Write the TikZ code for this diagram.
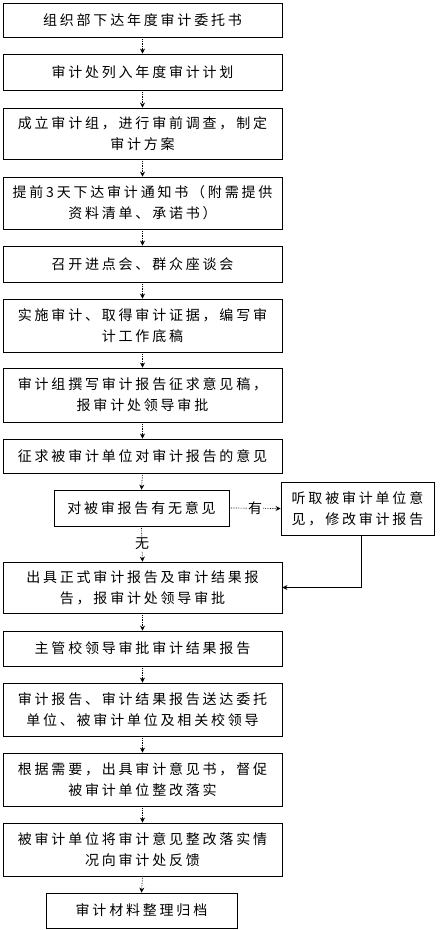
\documentclass[tikz,border=0pt]{standalone}
\usepackage{fontspec}
\newfontfamily\cjk[LetterSpace=20]{Noto Sans CJK SC}
\usetikzlibrary{arrows.meta}
\begin{document}
\begin{tikzpicture}[x=1pt,y=-1pt,
  box/.style={draw,line width=0.8pt,inner sep=0pt,align=center,
    font=\cjk\fontsize{14}{21}\selectfont,minimum width=279pt},
  flow/.style={densely dotted,line width=0.7pt,-{Stealth[length=5pt,width=5pt]}},
  solidflow/.style={line width=0.8pt,-{Stealth[length=5pt,width=5pt]}},
  lbl/.style={fill=white,inner sep=1pt,font=\cjk\fontsize{14}{16}\selectfont}]
\useasboundingbox (0,0) rectangle (442,930);
\node[box,minimum height=34pt] (b1) at (142.5,20) {组织部下达年度审计委托书};
\node[box,minimum height=36pt] (b2) at (142.5,72) {审计处列入年度审计计划};
\node[box,minimum height=51pt] (b3) at (142.5,133.5) {成立审计组，进行审前调查，制定\\审计方案};
\node[box,minimum height=52pt] (b4) at (142.5,203) {提前3天下达审计通知书（附需提供\\资料清单、承诺书）};
\node[box,minimum height=36pt] (b5) at (142.5,264) {召开进点会、群众座谈会};
\node[box,minimum height=53pt] (b6) at (142.5,325.5) {实施审计、取得审计证据，编写审\\计工作底稿};
\node[box,minimum height=54pt] (b7) at (142.5,395) {审计组撰写审计报告征求意见稿，\\报审计处领导审批};
\node[box,minimum height=34pt] (b8) at (142.5,456) {征求被审计单位对审计报告的意见};
\node[box,minimum height=36pt,minimum width=175pt] (b9) at (141.5,508) {对被审报告有无意见};
\node[box,minimum height=53pt,minimum width=153pt] (r) at (357.5,508.5) {听取被审计单位意\\见，修改审计报告};
\node[box,minimum height=51pt] (b10) at (142.5,587.5) {出具正式审计报告及审计结果报\\告，报审计处领导审批};
\node[box,minimum height=35pt] (b11) at (142.5,648.5) {主管校领导审批审计结果报告};
\node[box,minimum height=53pt] (b12) at (142.5,709.5) {审计报告、审计结果报告送达委托\\单位、被审计单位及相关校领导};
\node[box,minimum height=53pt] (b13) at (142.5,779.5) {根据需要，出具审计意见书，督促\\被审计单位整改落实};
\node[box,minimum height=53pt] (b14) at (142.5,849.5) {被审计单位将审计意见整改落实情\\况向审计处反馈};
\node[box,minimum height=35pt,minimum width=191pt] (b15) at (141.5,910.5) {审计材料整理归档};
\foreach \a/\b in {b1/b2,b2/b3,b3/b4,b4/b5,b5/b6,b6/b7,b7/b8,b8/b9,b10/b11,b11/b12,b12/b13,b13/b14,b14/b15}
  \draw[flow] (\a.south) -- (\b.north);
\draw[flow] (b9.east) -- node[lbl] (you) {有} (r.west);
\draw[flow] (b9.south) -- node[lbl] (wu) {无} (b10.north);
\coordinate (rb) at ([xshift=3.5pt]r.south);
\draw[solidflow] (rb) |- (b10.east);
\end{tikzpicture}
\end{document}
